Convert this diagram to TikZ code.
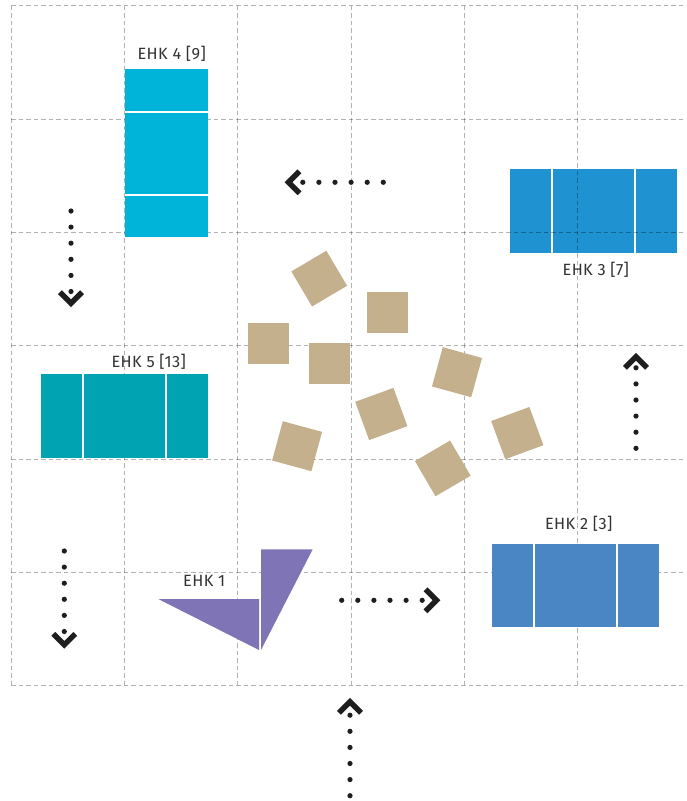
\documentclass[tikz,border=0pt]{standalone}
\usepackage{fontspec}
\setmainfont[LetterSpace=2.5]{Fira Sans}
\usetikzlibrary{calc}
\definecolor{cfour}{HTML}{00B4D9}
\definecolor{cthree}{HTML}{1F92D1}
\definecolor{cfive}{HTML}{00A3B2}
\definecolor{ctwo}{HTML}{4A86C4}
\definecolor{cone}{HTML}{7F75B6}
\definecolor{ctan}{HTML}{C4B08C}
\definecolor{labelgray}{HTML}{333333}
\definecolor{arrowblack}{HTML}{1E1E1E}
\begin{document}
\begin{tikzpicture}[x=1pt,y=-1pt,
  gridline/.style={draw=black, draw opacity=0.30, line width=1pt, dash pattern=on 4.5pt off 3pt},
  lbl/.style={anchor=base, font=\fontsize{16.3}{18}\selectfont, text=labelgray, inner sep=0pt},
  dotline/.style={draw=arrowblack, line width=5.2pt, line cap=round, dash pattern=on 0pt off 16.1pt},
  chev/.style={draw=arrowblack, line width=5.4pt, line join=miter, line cap=butt},
  tile/.style={fill=ctan, draw=none, minimum size=40.7pt, inner sep=0pt, outer sep=0pt},
]
\useasboundingbox (0,0) rectangle (686,801);
\fill[white] (0,0) rectangle (686,801);

% EHK 3 (under the grid)
\fill[cthree] (510,169.3) rectangle (551,252.7);
\fill[cthree] (553,169.3) rectangle (634,252.7);
\fill[cthree] (636,169.3) rectangle (677.3,252.7);

% grid
\foreach \x in {11,124.3,237.7,351,464.3,577.7}
  \draw[gridline] (\x,5.7) -- (\x,685.7);
\foreach \y in {5.7,119,232.3,345.7,459,572.3,685.7}
  \draw[gridline] (11,\y) -- (686,\y);

% EHK 4
\fill[cfour] (125,69.3) rectangle (208.3,110.7);
\fill[cfour] (125,112.7) rectangle (208.3,193.7);
\fill[cfour] (125,195.7) rectangle (208.3,237);

% EHK 5
\fill[cfive] (41,374) rectangle (82,457.7);
\fill[cfive] (84.3,374) rectangle (165,457.7);
\fill[cfive] (167.3,374) rectangle (208.3,457.7);

% EHK 2
\fill[ctwo] (492,544) rectangle (532.7,627.3);
\fill[ctwo] (534.7,544) rectangle (616,627.3);
\fill[ctwo] (618,544) rectangle (659,627.3);

% EHK 1
\fill[cone] (158.3,599) -- (259,599) -- (259,650) -- cycle;
\fill[cone] (261,549.3) -- (312.7,549.3) -- (261,650) -- cycle;

% tiles
\node[tile, rotate=30.6] (sA) at (319.2,278.6) {};
\node[tile] (sB) at (387.3,312.3) {};
\node[tile] (sC) at (268.5,343.3) {};
\node[tile] (sD) at (329.5,363.3) {};
\node[tile, rotate=-15.4] (sE) at (457,372.2) {};
\node[tile, rotate=20] (sF) at (381.3,414) {};
\node[tile, rotate=-15.2] (sG) at (297.1,446.2) {};
\node[tile, rotate=30.3] (sH) at (442.8,468.4) {};
\node[tile, rotate=20.2] (sI) at (517.3,433.1) {};

% labels
\node[lbl] (l4) at (171.7,59.3) {EHK 4 [9]};
\node[lbl] (l3) at (595.8,275.5) {EHK 3 [7]};
\node[lbl] (l5) at (148.7,367.5) {EHK 5 [13]};
\node[lbl] (l2) at (578.7,529.3) {EHK 2 [3]};
\node[lbl] (l1) at (204.2,586) {EHK 1};

% arrows
\coordinate (tailL) at (383.3,182.3); \coordinate (tipL) at (288.5,182.3);
\draw[dotline] (tailL) -- (tipL);
\draw[chev] ($(tipL)+(11,-11)$) -- (tipL) -- ($(tipL)+(11,11)$);

\coordinate (tailD) at (71,211); \coordinate (tipD) at (71,303.2);
\draw[dotline] (tailD) -- (tipD);
\draw[chev] ($(tipD)+(-11,-11)$) -- (tipD) -- ($(tipD)+(11,-11)$);

\coordinate (tailU) at (636,448.3); \coordinate (tipU) at (636,356.8);
\draw[dotline] (tailU) -- (tipU);
\draw[chev] ($(tipU)+(-11,11)$) -- (tipU) -- ($(tipU)+(11,11)$);

\coordinate (tailD2) at (64.3,551); \coordinate (tipD2) at (64.3,644.8);
\draw[dotline] (tailD2) -- (tipD2);
\draw[chev] ($(tipD2)+(-11,-11)$) -- (tipD2) -- ($(tipD2)+(11,-11)$);

\coordinate (tailR) at (341.7,600.3); \coordinate (tipR) at (436.5,600.3);
\draw[dotline] (tailR) -- (tipR);
\draw[chev] ($(tipR)+(-11,-11)$) -- (tipR) -- ($(tipR)+(-11,11)$);

\coordinate (tailU2) at (350,795.7); \coordinate (tipU2) at (350,701.8);
\draw[dotline] (tailU2) -- (tipU2);
\draw[chev] ($(tipU2)+(-11,11)$) -- (tipU2) -- ($(tipU2)+(11,11)$);
\end{tikzpicture}
\end{document}
